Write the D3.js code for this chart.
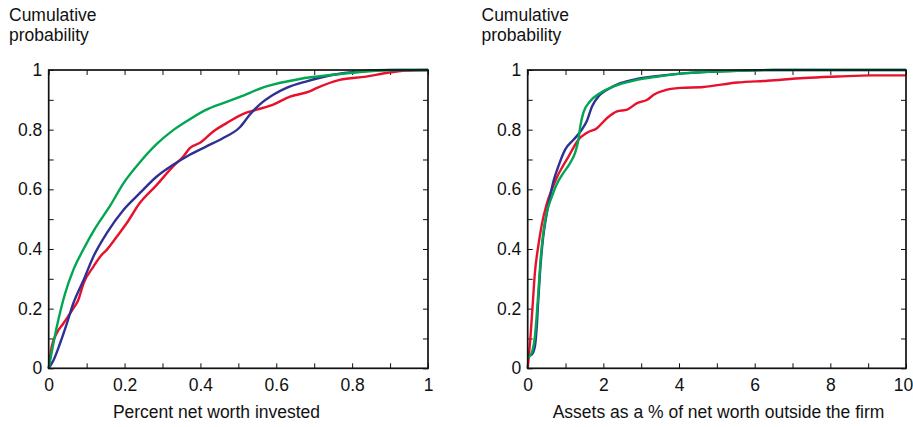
<!DOCTYPE html>
<html>
<head>
<meta charset="utf-8">
<script src="https://cdnjs.cloudflare.com/ajax/libs/d3/7.8.5/d3.min.js"></script>
<style>
  body { margin: 0; background: #fff; }
  svg text { font-family: Helvetica, Arial, "Liberation Sans", sans-serif; fill: #111; }
</style>
</head>
<body>
<script>

// series colours
var red = "#e8112d", blue = "#2e3192", green = "#00a651";

// left panel: percent net worth invested  [x, cumulative prob]
var investedRed = [[0,0],[0.008,0.073],[0.021,0.117],[0.039,0.151],[0.065,0.201],[0.078,0.229],[0.092,0.285],
  [0.118,0.341],[0.136,0.375],[0.153,0.397],[0.18,0.442],[0.206,0.487],[0.24,0.554],[0.285,0.615],[0.328,0.677],
  [0.355,0.71],[0.372,0.738],[0.4,0.757],[0.434,0.794],[0.469,0.822],[0.513,0.853],[0.548,0.867],[0.592,0.884],
  [0.636,0.911],[0.688,0.928],[0.706,0.939],[0.767,0.967],[0.837,0.978],[0.89,0.99],[0.943,0.998],[1,1]];

var investedBlue = [[0,0],[0.013,0.028],[0.03,0.084],[0.048,0.151],[0.065,0.218],[0.092,0.296],[0.118,0.375],
  [0.153,0.453],[0.197,0.531],[0.24,0.587],[0.285,0.643],[0.328,0.682],[0.372,0.716],[0.416,0.744],[0.46,0.772],
  [0.504,0.808],[0.53,0.85],[0.556,0.884],[0.592,0.917],[0.627,0.94],[0.68,0.962],[0.75,0.984],[0.82,0.995],
  [0.9,1],[1,1]];

var investedGreen = [[0,0],[0.0215,0.14],[0.043,0.25],[0.065,0.33],[0.092,0.40],[0.118,0.46],[0.162,0.545],
  [0.197,0.62],[0.24,0.69],[0.285,0.752],[0.33,0.80],[0.372,0.835],[0.416,0.867],[0.46,0.889],[0.504,0.91],
  [0.574,0.945],[0.662,0.97],[0.75,0.984],[0.837,0.995],[0.925,1],[1,1]];

// right panel: assets as a % of net worth outside the firm
var assetsRed = [[0,0],[0.07,0.1],[0.13,0.21],[0.19,0.32],[0.28,0.41],[0.37,0.48],[0.5,0.55],[0.64,0.60],
  [0.77,0.64],[0.94,0.68],[1.08,0.71],[1.21,0.74],[1.34,0.766],[1.56,0.789],[1.83,0.805],[2.1,0.839],
  [2.36,0.861],[2.63,0.867],[2.89,0.889],[3.16,0.9],[3.33,0.917],[3.6,0.931],[4.04,0.94],[4.64,0.943],
  [5.54,0.958],[6.34,0.964],[7.31,0.973],[8.2,0.978],[9.08,0.982],[10,0.982]];

var assetsBlue = [[0,0.04],[0.1,0.045],[0.19,0.073],[0.24,0.14],[0.28,0.23],[0.33,0.33],[0.4,0.43],
  [0.49,0.509],[0.59,0.576],[0.68,0.627],[0.81,0.677],[0.99,0.733],[1.21,0.766],[1.43,0.80],[1.56,0.828],
  [1.7,0.878],[1.87,0.911],[2.1,0.934],[2.45,0.956],[2.89,0.97],[3.33,0.978],[4.04,0.988],[4.64,0.993],
  [5.54,0.997],[6.5,1],[10,1]];

var assetsGreen = [[0,0.035],[0.1,0.05],[0.19,0.106],[0.28,0.252],[0.34,0.363],[0.41,0.453],[0.5,0.52],
  [0.64,0.576],[0.77,0.618],[0.94,0.654],[1.12,0.688],[1.25,0.721],[1.34,0.766],[1.39,0.811],[1.47,0.856],
  [1.65,0.895],[1.92,0.923],[2.27,0.945],[2.89,0.967],[3.33,0.976],[4.04,0.988],[4.64,0.993],[5.54,0.997],
  [6.5,1],[10,1]];

// tick values
var yTicks = d3.range(0, 11).map(function(i) { return i / 10; });
var yLabels = [0, 0.2, 0.4, 0.6, 0.8, 1];
var leftXTicks = d3.range(0, 11).map(function(i) { return i / 10; });
var leftXLabels = [0, 0.2, 0.4, 0.6, 0.8, 1];
var rightXTicks = d3.range(0, 11);
var rightXLabels = [0, 2, 4, 6, 8, 10];

var fontSize = 17.5;

var svg = d3.select("body").append("svg")
    .attr("width", 913)
    .attr("height", 427);

function panel(opt) {
  var x = d3.scaleLinear().domain(opt.xDomain).range([opt.left, opt.right]);
  var y = d3.scaleLinear().domain([0, 1]).range([368.3, 70]);
  var g = svg.append("g");

  var isLab = function(list) {
    return function(d) {
      return list.some(function(v) { return Math.abs(v - d) < 1e-9; }) ? d3.format("~g")(d) : "";
    };
  };

  // bottom
  var bottom = g.append("g").attr("transform", "translate(0," + y(0) + ")")
    .call(d3.axisBottom(x).tickValues(opt.xTicks).tickFormat(isLab(opt.xLabels))
      .tickSizeInner(-5).tickSizeOuter(0).tickPadding(10));
  // top
  g.append("g").attr("transform", "translate(0," + y(1) + ")")
    .call(d3.axisTop(x).tickValues(opt.xTicks).tickFormat("").tickSizeInner(-5).tickSizeOuter(0));
  // left
  g.append("g").attr("transform", "translate(" + x.range()[0] + ",0)")
    .call(d3.axisLeft(y).tickValues(yTicks).tickFormat(isLab(yLabels))
      .tickSizeInner(-5).tickSizeOuter(0).tickPadding(6.4));
  // right
  g.append("g").attr("transform", "translate(" + x.range()[1] + ",0)")
    .call(d3.axisRight(y).tickValues(yTicks).tickFormat("").tickSizeInner(-5).tickSizeOuter(0));

  g.selectAll(".domain").remove();
  g.selectAll(".tick line").attr("stroke", "#111").attr("stroke-width", 1);
  g.selectAll(".tick text").attr("font-size", fontSize).attr("fill", "#111");

  // last x label sits against the edge, like the original
  if (opt.lastShift) {
    bottom.selectAll(".tick text").filter(function(d) { return d === opt.xDomain[1]; })
      .attr("dx", opt.lastShift);
  }

  var line = d3.line()
    .x(function(d) { return x(d[0]); })
    .y(function(d) { return y(d[1]); })
    .curve(d3.curveMonotoneX);

  opt.series.forEach(function(s) {
    g.append("path")
      .datum(s.data)
      .attr("fill", "none")
      .attr("stroke", s.color)
      .attr("stroke-width", 2.4)
      .attr("stroke-linejoin", "round")
      .attr("d", line);
  });

  // frame
  g.append("rect")
    .attr("x", x.range()[0]).attr("y", y(1))
    .attr("width", x.range()[1] - x.range()[0])
    .attr("height", y(0) - y(1))
    .attr("fill", "none")
    .attr("stroke", "#111")
    .attr("stroke-width", 1.7);

  g.append("text").attr("x", opt.titleX).attr("y", 21).attr("font-size", fontSize).text("Cumulative");
  g.append("text").attr("x", opt.titleX).attr("y", 41).attr("font-size", fontSize).text("probability");

  g.append("text")
    .attr("x", opt.labelX).attr("y", 418)
    .attr("text-anchor", "middle")
    .attr("font-size", fontSize)
    .text(opt.xLabel);
}

panel({
  left: 48.7, right: 428, xDomain: [0, 1],
  xTicks: leftXTicks, xLabels: leftXLabels,
  titleX: 9, labelX: 216.5, xLabel: "Percent net worth invested",
  series: [{data: investedRed, color: red}, {data: investedBlue, color: blue}, {data: investedGreen, color: green}]
});

panel({
  left: 527.7, right: 906, xDomain: [0, 10],
  xTicks: rightXTicks, xLabels: rightXLabels, lastShift: -3,
  titleX: 481.5, labelX: 718.5, xLabel: "Assets as a % of net worth outside the firm",
  series: [{data: assetsRed, color: red}, {data: assetsBlue, color: blue}, {data: assetsGreen, color: green}]
});

</script>
</body>
</html>
